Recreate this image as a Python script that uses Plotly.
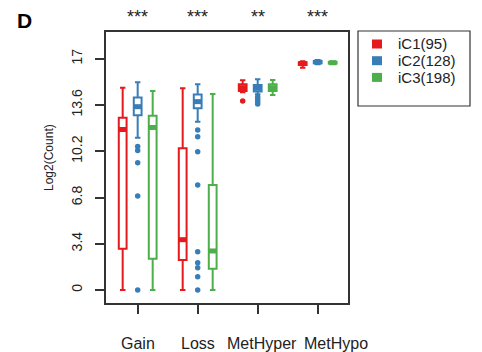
import plotly.graph_objects as go

groups = ["Gain", "Loss", "MetHyper", "MetHypo"]
signif = ["***", "***", "**", "***"]
series = ["iC1(95)", "iC2(128)", "iC3(198)"]
colors = ["#E41A1C", "#377EB8", "#4DAF4A"]
yticks = [0, 3.4, 6.8, 10.2, 13.6, 17]

# per-series stats for groups Gain, Loss, MetHyper, MetHypo
iC1_low = [0, 0, 14.54, 16.35]
iC1_q1 = [3.04, 2.2, 14.63, 16.55]
iC1_med = [11.8, 3.7, 14.88, 16.65]
iC1_q3 = [12.67, 10.42, 15.12, 16.75]
iC1_high = [14.88, 14.83, 15.42, 16.82]
iC1_out = [[], [], [13.9], []]

iC2_low = [11.2, 12.38, 14.39, 16.6]
iC2_q1 = [12.85, 13.36, 14.6, 16.68]
iC2_med = [13.48, 13.85, 14.83, 16.76]
iC2_q3 = [14.15, 14.38, 15.07, 16.84]
iC2_high = [15.27, 15.13, 15.5, 16.92]
iC2_out = [[10.55, 10.25, 9.35, 6.91, 0],
           [11.76, 11.27, 10.17, 7.72, 2.82, 2.01, 1.64, 0.98, 0],
           [14.21, 14.02, 13.85, 13.68], []]

iC3_low = [0, 0, 14.34, 16.62]
iC3_q1 = [2.3, 1.57, 14.63, 16.66]
iC3_med = [11.95, 2.87, 14.88, 16.71]
iC3_q3 = [12.82, 7.72, 15.12, 16.76]
iC3_high = [14.63, 14.41, 15.44, 16.8]
iC3_out = [[], [], [], []]

stats = [
    (iC1_low, iC1_q1, iC1_med, iC1_q3, iC1_high, iC1_out),
    (iC2_low, iC2_q1, iC2_med, iC2_q3, iC2_high, iC2_out),
    (iC3_low, iC3_q1, iC3_med, iC3_q3, iC3_high, iC3_out),
]
offsets = [-0.25, 0.0, 0.25]
BOXW = 0.13
FONT = "Liberation Sans, Arial, sans-serif"
AX = "#333333"

fig = go.Figure()
centers = [i + 1 for i in range(len(groups))]
for k, (lo, q1, med, q3, hi, outs) in enumerate(stats):
    xs = [c + offsets[k] for c in centers]
    fig.add_trace(go.Box(
        x=xs, q1=q1, median=med, q3=q3, lowerfence=lo, upperfence=hi,
        width=BOXW, whiskerwidth=0.7, boxpoints=False,
        line=dict(color=colors[k], width=2), fillcolor="rgba(255,255,255,0)",
        name=series[k], showlegend=False, hoverinfo="skip"))
    # thick median
    mx, my = [], []
    for x, m in zip(xs, med):
        mx += [x - BOXW / 2, x + BOXW / 2, None]
        my += [m, m, None]
    fig.add_trace(go.Scatter(x=mx, y=my, mode="lines",
                             line=dict(color=colors[k], width=5),
                             showlegend=False, hoverinfo="skip"))
    ox, oy = [], []
    for x, o in zip(xs, outs):
        ox += [x] * len(o)
        oy += o
    if ox:
        fig.add_trace(go.Scatter(x=ox, y=oy, mode="markers",
                                 marker=dict(color=colors[k], size=5.5),
                                 showlegend=False, hoverinfo="skip"))

L, R, T, B = 106, 134, 32, 49
W, H = 482, 352
pw, ph = W - L - R, H - T - B

def px(xp):
    return (xp - L) / pw

def py(yp):
    return (H - B - yp) / ph

annotations = []
for c, g, s in zip(centers, groups, signif):
    shift = {"MetHyper": 4, "MetHypo": 18}.get(g, 0)
    annotations.append(dict(x=c, y=py(343), xref="x", yref="paper", text=g,
                            showarrow=False, xshift=shift, xanchor="center", yanchor="middle",
                            font=dict(family=FONT, size=16, color="#222")))
    annotations.append(dict(x=c, y=py(17), xref="x", yref="paper", text=s,
                            showarrow=False, xanchor="center", yanchor="middle",
                            font=dict(family=FONT, size=18, color="#222")))
annotations.append(dict(x=px(24.5), y=py(20.5), xref="paper", yref="paper", text="<b>D</b>",
                        showarrow=False, xanchor="center", yanchor="middle",
                        font=dict(family=FONT, size=21, color="black")))
annotations.append(dict(x=px(49), y=py(158), xref="paper", yref="paper", text="Log2(Count)",
                        showarrow=False, textangle=-90, xanchor="center", yanchor="middle",
                        font=dict(family=FONT, size=12, color="#222")))

shapes = [dict(type="rect", xref="paper", yref="paper", x0=px(358), x1=px(470),
               y0=py(106), y1=py(31), line=dict(color=AX, width=1.2))]
rows = [44, 60.7, 77.4]
for k in range(3):
    shapes.append(dict(type="rect", xref="paper", yref="paper",
                       x0=px(377 - 5), x1=px(377 + 5), y0=py(rows[k] + 4.5), y1=py(rows[k] - 4.5),
                       line=dict(width=0), fillcolor=colors[k]))
    annotations.append(dict(x=px(397), y=py(rows[k]), xref="paper", yref="paper",
                            text=series[k], showarrow=False, xanchor="left", yanchor="middle",
                            borderpad=0,
                            font=dict(family=FONT, size=15, color="#222")))

fig.update_layout(
    width=W, height=H, margin=dict(l=L, r=R, t=T, b=B),
    paper_bgcolor="white", plot_bgcolor="white", boxmode="overlay",
    showlegend=False, annotations=annotations, shapes=shapes,
    font=dict(family=FONT, color="#222"),
)
fig.update_xaxes(range=[0.472, 4.505], tickvals=centers, ticktext=groups,
                 showticklabels=False, ticks="outside", ticklen=9, tickwidth=1.5,
                 tickcolor=AX, showline=True, linecolor=AX, linewidth=1.5, mirror=True,
                 showgrid=False, zeroline=False)
fig.update_yaxes(range=[-0.956, 18.97], tickvals=yticks, ticktext=[str(v) for v in yticks],
                 tickangle=-90, ticks="outside", ticklen=9, tickwidth=1.5, tickcolor=AX,
                 tickfont=dict(family=FONT, size=14, color="#222"), ticklabelstandoff=8,
                 showline=True, linecolor=AX, linewidth=1.5, mirror=True,
                 showgrid=False, zeroline=False)

fig.write_html("out.html")
